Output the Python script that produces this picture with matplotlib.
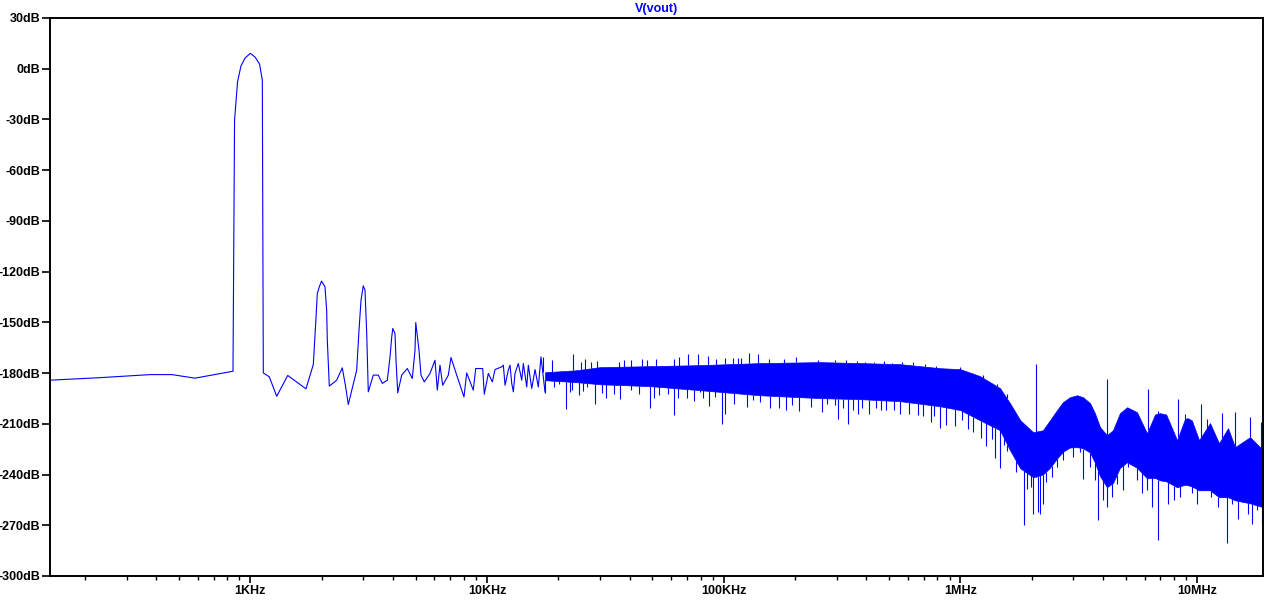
import numpy as np
import matplotlib
matplotlib.use('Agg')
import matplotlib.pyplot as plt
from matplotlib.ticker import FixedLocator, NullFormatter

plt.rcParams['font.family'] = ['Liberation Sans', 'DejaVu Sans']

## low frequency part of the FFT trace (Hz, dB)
line_f = [142, 232, 377, 467, 584, 845, 858, 883, 913, 950, 1000, 1047, 1094, 1124, 1135,
          1203, 1293, 1439, 1719, 1846, 1896, 1919, 1956, 2000, 2068, 2102, 2115, 2157,
          2317, 2447, 2529, 2594, 2815, 2879, 2936, 3000, 3052, 3103, 3151, 3308, 3473,
          3612, 3792, 3893, 3958, 4000, 4086, 4127, 4196, 4361, 4606, 4835, 4964, 5000,
          5160, 5262, 5434, 5743, 6030, 6166, 6330, 6498, 6863, 7046, 7447, 7994, 8208,
          8750, 8960, 9590, 9740, 10130, 10530, 10810, 11540, 11720, 11920, 12300, 12510,
          12720, 12920, 13130, 13560, 14020, 14240, 14720, 14950, 15450, 15960, 16470,
          16910, 17580]
line_db = [-184.2, -182.7, -180.9, -180.9, -183.0, -178.9, -30.4, -7.9, 1.6, 6.3, 9.1, 6.9,
           2.8, -6.7, -179.9, -182.2, -193.7, -181.4, -189.3, -174.9, -146.7, -132.9,
           -129.0, -125.6, -129.0, -142.8, -160.5, -187.7, -184.2, -176.9, -188.2, -198.6,
           -178.3, -154.6, -136.9, -128.4, -130.9, -156.6, -191.1, -181.2, -181.2, -186.1,
           -184.2, -170.4, -158.6, -153.6, -156.6, -172.4, -191.7, -181.2, -177.3, -183.2,
           -166.4, -150.1, -166.4, -181.2, -185.2, -180.2, -172.4, -190.1, -175.3, -187.2,
           -181.2, -170.8, -181.2, -194.1, -179.9, -190.1, -177.3, -177.3, -192.5, -180.2,
           -185.2, -177.9, -176.3, -175.3, -187.2, -178.3, -175.3, -186.1, -191.1, -180.2,
           -174.3, -184.2, -174.3, -188.2, -175.3, -189.1, -177.9, -188.2, -170.4, -191.1]

## dense noise floor: top / bottom of the solid core
band_f = [17.6e3, 24.0e3, 30.0e3, 48.8e3, 79.4e3, 142e3, 255e3, 377e3, 556e3, 820e3,
          1.0e6, 1.21e6, 1.47e6, 1.62e6, 1.79e6, 2.03e6, 2.23e6, 2.39e6, 2.56e6, 2.71e6,
          2.90e6, 3.11e6, 3.30e6, 3.53e6, 3.70e6, 3.89e6, 4.16e6, 4.41e6, 4.72e6, 5.06e6,
          5.57e6, 6.14e6, 6.64e6, 6.97e6, 7.40e6, 8.23e6, 8.89e6, 9.15e6, 9.50e6, 10.19e6,
          11.34e6, 12.37e6, 13.51e6, 14.46e6, 16.73e6, 19.0e6]
band_hi = [-179.5, -178.3, -176.5, -175.9, -175.3, -174.1, -173.5, -174.1, -174.7, -177.1,
           -177.7, -181.8, -188.9, -197.8, -207.9, -215.0, -213.8, -207.9, -201.9, -197.2,
           -194.3, -193.1, -194.3, -197.8, -203.7, -212.0, -216.7, -213.8, -203.7, -200.2,
           -203.1, -215.6, -204.5, -203.7, -204.5, -219.7, -207.0, -206.7, -208.0, -219.7,
           -209.6, -221.5, -212.6, -223.8, -217.9, -225.6]
band_lo = [-184.2, -185.4, -186.6, -187.7, -190.1, -193.1, -194.8, -195.4, -196.6, -199.6,
           -201.9, -207.9, -213.8, -225.6, -236.3, -241.6, -240.0, -236.0, -230.5, -226.5,
           -224.0, -223.8, -224.5, -227.0, -233.0, -241.0, -247.5, -245.0, -236.0, -232.7,
           -236.0, -242.2, -242.0, -243.4, -244.0, -247.5, -246.0, -246.3, -247.0, -249.3,
           -249.3, -253.4, -253.4, -255.2, -257.0, -259.3]

## single bins sticking out above the core
up_f = [17.2e3, 18.8e3, 23.1e3, 24.9e3, 26.0e3, 27.4e3, 29.2e3, 36.2e3, 38.0e3, 40.5e3,
        45.3e3, 47.6e3, 51.8e3, 61.7e3, 64.9e3, 70.9e3, 77.7e3, 86.1e3, 92.8e3, 101e3,
        109e3, 115e3, 118e3, 128e3, 140e3, 156e3, 180e3, 203e3, 251e3, 295e3, 328e3,
        365e3, 395e3, 433e3, 476e3, 516e3, 565e3, 629e3, 709e3, 789e3, 869e3, 996e3,
        1.116e6, 1.25e6, 1.43e6, 1.57e6, 2.08e6, 4.18e6, 6.22e6, 6.86e6, 8.33e6, 8.89e6,
        10.39e6, 10.98e6, 12.78e6, 14.46e6, 16.73e6, 18.62e6]
up_db = [-170.4, -172.4, -169.0, -173.4, -171.8, -173.4, -173.0, -173.7, -172.5, -172.5,
         -171.4, -172.4, -171.4, -171.4, -170.4, -169.0, -169.0, -170.0, -171.8, -170.8,
         -170.8, -170.8, -170.8, -168.4, -169.0, -171.8, -171.4, -170.4, -172.4, -172.4,
         -172.4, -173.0, -173.4, -173.4, -173.0, -174.3, -173.7, -173.4, -174.9, -175.7,
         -176.9, -176.3, -181.2, -181.2, -186.7, -192.1, -174.7, -183.6, -189.5, -202.4,
         -195.6, -204.3, -198.0, -206.9, -203.5, -203.0, -205.9, -208.9]

## single bins dropping below the core
down_f = [17.6e3, 19.2e3, 20.2e3, 21.6e3, 22.4e3, 22.9e3, 24.5e3, 25.4e3, 26.5e3, 28.7e3,
          30.5e3, 31.8e3, 34.4e3, 36.5e3, 40.5e3, 44.0e3, 48.8e3, 50.9e3, 53.3e3, 58.0e3,
          61.5e3, 63.9e3, 69.8e3, 75.1e3, 79.4e3, 82.0e3, 86.9e3, 91.9e3, 98.1e3, 101e3,
          111e3, 126e3, 133e3, 143e3, 157e3, 172e3, 183e3, 195e3, 209e3, 234e3, 261e3,
          272e3, 295e3, 303e3, 318e3, 336e3, 353e3, 371e3, 383e3, 412e3, 440e3, 461e3,
          485e3, 524e3, 556e3, 608e3, 664e3, 693e3, 751e3, 774e3, 820e3, 867e3, 949e3,
          1.013e6, 1.08e6, 1.13e6, 1.22e6, 1.28e6, 1.36e6, 1.40e6, 1.47e6, 1.53e6, 1.58e6,
          1.72e6, 1.86e6, 1.91e6, 1.98e6, 2.03e6, 2.09e6, 2.13e6, 2.17e6, 2.23e6, 2.30e6,
          2.43e6, 2.55e6, 2.72e6, 3.00e6, 3.20e6, 3.31e6, 3.53e6, 3.70e6, 3.82e6, 3.99e6,
          4.15e6, 4.36e6, 4.57e6, 4.88e6, 5.12e6, 5.56e6, 5.83e6, 6.12e6, 6.43e6, 6.86e6,
          7.04e6, 7.56e6, 8.01e6, 8.47e6, 9.13e6, 9.49e6, 9.96e6, 10.8e6, 11.45e6, 12.29e6,
          13.34e6, 14.0e6, 14.84e6, 15.43e6, 16.36e6, 17.11e6, 17.86e6, 18.75e6, 18.95e6]
down_db = [-191.7, -188.2, -186.7, -201.5, -191.1, -190.1, -193.1, -190.5, -188.2, -198.2,
           -191.5, -195.0, -192.5, -195.6, -190.1, -192.1, -200.6, -195.0, -193.1, -192.1,
           -204.9, -195.0, -195.0, -196.6, -191.1, -195.0, -199.6, -194.1, -210.2, -203.9,
           -198.0, -200.0, -196.0, -197.0, -200.9, -200.9, -201.9, -199.0, -202.5, -200.0,
           -203.3, -198.0, -199.0, -206.9, -200.9, -210.4, -201.9, -203.9, -200.9, -203.9,
           -200.9, -201.9, -201.9, -201.9, -203.9, -203.9, -204.9, -205.3, -209.2, -205.3,
           -212.2, -210.8, -211.2, -207.9, -212.8, -215.1, -218.3, -223.1, -218.7, -230.5,
           -236.1, -222.7, -226.2, -238.5, -270.0, -248.3, -247.3, -263.1, -241.4, -262.1,
           -263.1, -257.2, -244.4, -241.4, -235.5, -231.5, -229.6, -226.6, -242.4, -235.5,
           -243.4, -266.6, -255.2, -259.2, -253.2, -245.3, -249.3, -235.5, -243.4, -251.2,
           -249.3, -259.2, -278.9, -239.4, -257.2, -255.2, -253.2, -241.4, -251.2, -257.2,
           -249.3, -253.2, -259.2, -280.5, -257.2, -266.0, -255.2, -263.1, -269.0, -261.1,
           -269.0, -283.6]

x_ticks = [1e3, 1e4, 1e5, 1e6, 1e7]
x_labels = ['1KHz', '10KHz', '100KHz', '1MHz', '10MHz']
y_ticks = list(range(30, -301, -30))
y_labels = [str(v) + 'dB' for v in y_ticks]

fig = plt.figure(figsize=(12.76, 6.04), dpi=100)
ax = fig.add_axes([50/1276, 1-576/604, 1213/1276, 558/604])

trace = '#0000ff'
ax.plot(line_f, line_db, color=trace, lw=0.8)
ax.fill_between(band_f, band_lo, band_hi, color=trace, lw=0.5)

## spikes start at the core edge
lb = np.log10(band_f)
base_up = np.interp(np.log10(up_f), lb, band_hi)
base_dn = np.interp(np.log10(down_f), lb, band_lo)
ax.vlines(up_f, base_up, up_db, color=trace, lw=0.8)
ax.vlines(down_f, down_db, base_dn, color=trace, lw=0.8)

ax.set_xscale('log')
ax.set_xlim(142.5, 1.898e7)
ax.set_ylim(-300, 30)

ax.xaxis.set_major_locator(FixedLocator(x_ticks))
ax.set_xticklabels(x_labels)
ax.xaxis.set_minor_locator(FixedLocator([m * 10**d for d in range(2, 8) for m in range(2, 10)]))
ax.xaxis.set_minor_formatter(NullFormatter())
ax.set_yticks(y_ticks)
ax.set_yticklabels(y_labels)

for lab in ax.get_xticklabels() + ax.get_yticklabels():
    lab.set_fontweight('bold')
    lab.set_fontsize(9)
ax.tick_params(axis='x', which='major', length=5.3, width=1.2, pad=1.5)
ax.tick_params(axis='x', which='minor', length=2.9, width=1.0)
ax.tick_params(axis='y', which='major', length=6, width=1.2, pad=1)
for s in ax.spines.values():
    s.set_linewidth(1.4)

ax.set_title('V(vout)', color=trace, fontsize=9, fontweight='bold', pad=4.5)

plt.savefig('out.png', dpi=100)
plt.close()
